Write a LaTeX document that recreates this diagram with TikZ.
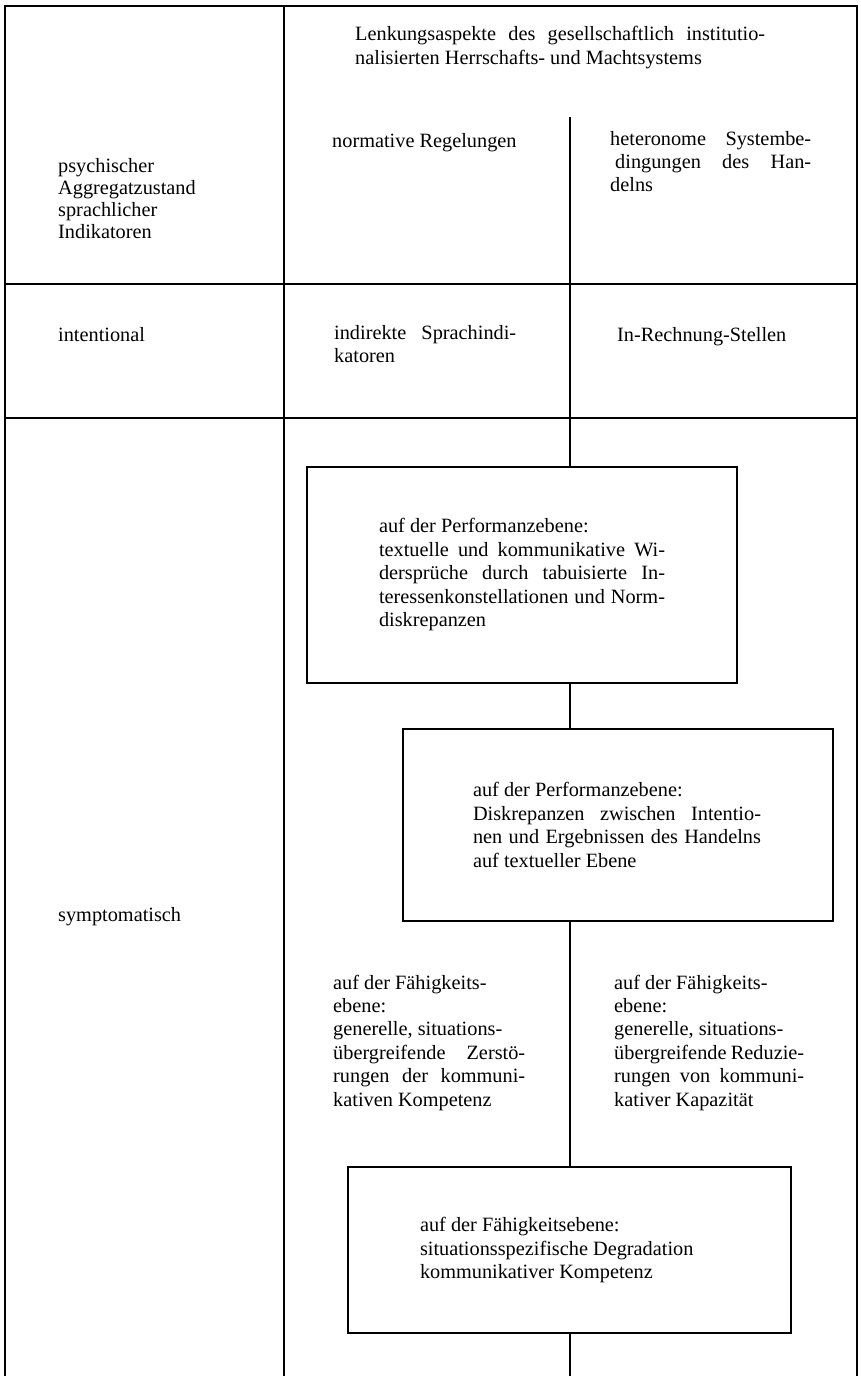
\documentclass[tikz,border=0pt]{standalone}
\usepackage{fontspec}
\setmainfont{Liberation Serif}
\newcommand\jline[2]{\makebox[#1pt][s]{#2}}
\newcommand\pline[2]{\makebox[#1pt][l]{#2}}
\begin{document}
\begin{tikzpicture}[x=1pt,y=-1pt,
  grid/.style={line width=1.2pt, line cap=rect},
  txt/.style={anchor=north west, inner sep=0pt, align=left, font=\fontsize{20.3}{23}\selectfont, execute at begin node=\strut},
  box/.style={draw, line width=1.8pt, inner sep=0pt, align=left, fill=white, font=\fontsize{20.3}{23.5}\selectfont}]
\useasboundingbox (0,0) rectangle (860,1376);
\fill[white] (0,0) rectangle (860,1376);
% table grid
\draw[grid] (5,1376) -- (5,6) -- (857,6) -- (857,1376);
\draw[grid] (284,6) -- (284,1376);
\draw[grid] (5,284) -- (857,284);
\draw[grid] (5,418) -- (857,418);
% header texts
\node[txt, font=\fontsize{20.3}{24}\selectfont] (head) at (355,25.7) {\jline{410}{Lenkungsaspekte des gesellschaftlich institutio-}\\nalisierten Herrschafts- und Machtsystems};
\node[txt] (norm) at (332,130.9) {normative Regelungen};
\node[txt] (hetero) at (610,130.9) {\jline{201}{heteronome Systembe-}\\\hspace*{5pt}\jline{196}{dingungen des Han-}\\delns};
\node[txt, font=\fontsize{20.3}{22}\selectfont] (psych) at (58,158.6) {psychischer\\Aggregatzustand\\sprachlicher\\Indikatoren};
% intentional row
\node[txt] (intent) at (58,324.9) {intentional};
\node[txt] (indir) at (334,324.9) {\jline{182}{indirekte Sprachindi-}\\katoren};
\node[txt] (inrech) at (617,324.9) {In-Rechnung-Stellen};
% symptomatic row
\node[txt] (sympt) at (58,904.9) {symptomatisch};
\node[txt, font=\fontsize{20.3}{23.4}\selectfont] (faehL) at (333,974.6) {auf der Fähigkeits-\\ebene:\\generelle, situations-\\\jline{192}{übergreifende Zerstö-}\\\jline{192}{rungen der kommuni-}\\kativen Kompetenz};
\node[txt, font=\fontsize{20.3}{23.4}\selectfont] (faehR) at (614,974.6) {auf der Fähigkeits-\\ebene:\\generelle, situations-\\\jline{190}{übergreifende Reduzie-}\\\jline{190}{rungen von kommuni-}\\kativer Kapazität};
% boxes
\node[box, minimum width=430pt, minimum height=216pt] (b1) at (522,575) {\pline{286}{auf der Performanzebene:}\\\jline{286}{textuelle und kommunikative Wi-}\\\jline{286}{dersprüche durch tabuisierte In-}\\\jline{286}{teressenkonstellationen und Norm-}\\\pline{286}{diskrepanzen}};
\node[box, minimum width=430pt, minimum height=192pt] (b2) at (618,825) {\pline{290}{auf der Performanzebene:}\\\jline{288}{Diskrepanzen zwischen Intentio-}\\\jline{288}{nen und Ergebnissen des Handelns}\\\pline{290}{auf textueller Ebene}};
\node[box, minimum width=443pt, minimum height=166pt] (b3) at (569.5,1250) {\pline{299}{auf der Fähigkeitsebene:}\\\pline{299}{situationsspezifische Degradation}\\\pline{299}{kommunikativer Kompetenz}};
% central vertical connector
\coordinate (vtop) at (570,118);
\coordinate (vbot) at (570,1376);
\draw[grid] (vtop) -- (vtop |- b1.north);
\draw[grid] (vtop |- b1.south) -- (vtop |- b2.north);
\draw[grid] (vtop |- b2.south) -- (vtop |- b3.north);
\draw[grid] (vtop |- b3.south) -- (vbot);
\end{tikzpicture}
\end{document}
